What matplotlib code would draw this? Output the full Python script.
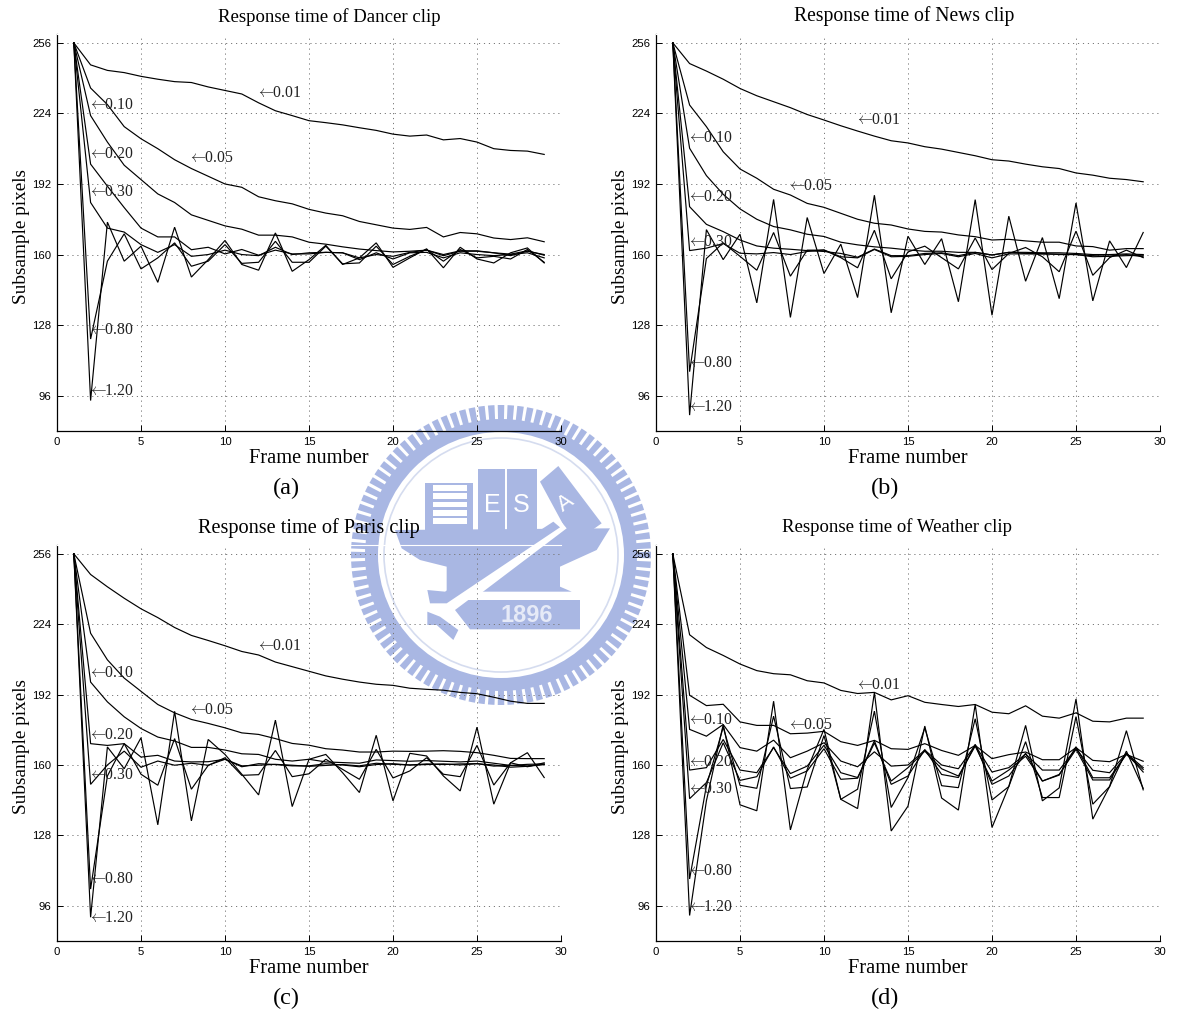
import numpy as np
from matplotlib import pyplot as plt
from matplotlib.patches import Circle, Polygon, Wedge

W, H = 1180, 1019

frames = list(range(1, 30))
rates = ['0.01', '0.05', '0.10', '0.20', '0.30', '0.80', '1.20']

dancer_001 = [256, 246, 243.5, 242.5, 240.8, 239.5, 238.4, 238, 236, 234.4, 232.8, 228.8, 225.2, 223, 220.7, 219.8, 218.8, 217.5, 216.3, 214.6, 213.7, 214.2, 212, 212.6, 211, 208, 207.2, 206.9, 205.4]
dancer_005 = [256, 235.5, 228, 218, 212.5, 208, 203, 199, 195.5, 192, 190.5, 186.2, 184.4, 183, 180.5, 178.8, 177.6, 175, 173.5, 172, 171.4, 172.3, 168, 170, 169.4, 167.5, 166.8, 167.6, 165.8]
dancer_010 = [256, 223, 211, 200.5, 194, 187.5, 183.6, 178, 175.5, 173, 171.5, 168.8, 168.8, 168, 165.6, 164.7, 163.5, 162.5, 161.8, 161.2, 161.5, 162, 160, 161.7, 161.7, 160.8, 160.2, 161.7, 159.7]
dancer_020 = [256, 201, 191, 181.3, 172, 168, 168, 162.2, 163.3, 160.3, 162.3, 159.7, 162, 160.3, 160.3, 161, 160.8, 158.5, 160, 159.2, 161, 162, 159.5, 161.5, 161.5, 160.8, 159.5, 161.5, 160]
dancer_030 = [256, 183.6, 172, 170.2, 164.5, 161, 164.5, 159.2, 160, 162, 160, 159.5, 163.3, 160, 160.8, 161, 160.8, 157.7, 160.8, 158, 160.8, 161, 158.5, 160.8, 160, 159.5, 160, 160.8, 158.5]
dancer_080 = [256, 121.7, 157, 169.4, 153.5, 158.5, 165.3, 154.7, 157, 164.5, 156, 156.5, 166, 156.5, 156.5, 163.8, 155.8, 156.2, 163.8, 155.5, 159.2, 162.3, 157, 162.3, 158.5, 159.2, 158, 162.3, 156.5]
dancer_120 = [256, 93.8, 174.7, 157, 163.8, 147.4, 172.4, 149.8, 157.7, 166.4, 155.5, 152.9, 169.8, 152.4, 157.7, 164.2, 155.5, 158.5, 165.3, 154.2, 158.5, 162.6, 154, 163.3, 158, 156.2, 160.8, 163, 156.2]

news_001 = [256, 246.6, 243.2, 239.5, 235.3, 232, 229.3, 226.6, 223.5, 221, 218.4, 216, 213.7, 211.6, 210.6, 208.9, 207.8, 206.3, 204.8, 203, 202.4, 201, 199.8, 199, 197, 196, 194.6, 194, 193]
news_005 = [256, 227.8, 218, 206.6, 198.8, 194.6, 189.6, 187, 183.2, 181.4, 178.7, 176, 174.2, 173.4, 171.6, 170.5, 170.2, 168.9, 168.1, 166.6, 166.9, 166.2, 165.6, 165.6, 163.9, 163.6, 162, 162.7, 162.7]
news_010 = [256, 208.2, 195.8, 187.3, 180.7, 176, 172.7, 171.2, 169.2, 168.2, 165.6, 164.4, 163.5, 162.9, 162.1, 161.5, 161.5, 161, 161, 159.8, 161, 161, 160.8, 160.8, 160.5, 160, 160, 160.3, 160]
news_020 = [256, 181.7, 173.7, 170.4, 166.6, 163.9, 162.9, 162.4, 161.8, 161.4, 160.5, 158.8, 162.5, 159.5, 159.5, 160.5, 160.8, 159.5, 161, 159.8, 161, 160.5, 160.5, 160, 160, 159.5, 159.3, 160, 159]
news_030 = [256, 161.8, 162.9, 165, 160.6, 160.3, 160.9, 160, 161.4, 162.1, 159, 158.5, 162.3, 159, 159.2, 160, 160.5, 159, 160.5, 158.5, 160.3, 160.3, 160.2, 160.2, 160, 159, 159.2, 159.5, 159.7]
news_080 = [256, 106.9, 158.2, 165.3, 159.2, 152.9, 170, 150.2, 162, 162, 158.6, 154, 171, 149, 161.2, 163.8, 158.6, 153.5, 167.5, 153.2, 160.5, 163.2, 159, 152.2, 170.6, 150.6, 158.6, 162, 158.6]
news_120 = [256, 87.2, 171.3, 157.7, 169.2, 138.1, 185, 131.5, 176.8, 151.4, 164.7, 140.5, 186.9, 133.6, 168.3, 155.5, 167.2, 138.6, 184.9, 132.5, 177.4, 147.9, 167.7, 140, 183.4, 139, 166.2, 154.1, 170]

paris_001 = [256, 246.6, 241, 235.8, 231, 227, 222.5, 218.9, 216.6, 214.2, 211.6, 210, 206.8, 204.7, 202.6, 200.5, 199, 197.7, 196.7, 196.2, 194.9, 194.4, 194, 193, 192.4, 190.8, 189, 188, 188]
paris_005 = [256, 219.9, 207.8, 199.5, 193.5, 187.5, 183.7, 180.7, 178.9, 176.9, 174.6, 173.9, 172, 169.8, 169, 167.4, 166.8, 165.9, 165.9, 166.3, 166.2, 166.3, 166.5, 166.2, 165.6, 164.4, 163, 162.9, 162.9]
paris_010 = [256, 197.7, 188.7, 181.9, 176.6, 172.7, 170.9, 168, 168, 166.8, 165.1, 164.8, 162.6, 161.8, 162.6, 161.4, 161.1, 160.8, 162.3, 162, 161.7, 162, 161.7, 161.4, 161.8, 160.8, 159.8, 160.3, 160.5]
paris_020 = [256, 169.7, 168.9, 169.7, 163.6, 164.4, 161.8, 161.4, 161.5, 162.6, 159.6, 159.9, 160.3, 159.9, 159.4, 159.8, 160.2, 159.6, 160.8, 160.3, 160, 160.5, 160.2, 160.5, 160.6, 159.5, 159.8, 159.6, 160.3]
paris_030 = [256, 151.2, 160, 166.3, 159, 161.8, 159.9, 160.8, 159.9, 162.6, 159.2, 160.6, 160.2, 159.6, 159.6, 160.6, 160, 159.2, 160.2, 160.6, 160, 160.2, 160.5, 160, 160.6, 160, 159, 159.4, 160.2]
paris_080 = [256, 103.6, 155, 169.7, 155.8, 150.8, 172, 149, 159.8, 163.3, 155.3, 155.6, 166.6, 154.7, 156, 162.6, 158, 153.5, 167.1, 154.1, 157.3, 163.3, 155.8, 154.7, 168.9, 150.9, 161, 159.2, 161]
paris_120 = [256, 90.8, 168.2, 158.3, 172.4, 132.8, 184.4, 134.6, 171.6, 164.8, 155.8, 146.4, 180.4, 141.1, 162.6, 164.8, 156.5, 147.5, 173.5, 143.7, 165.3, 164.1, 155, 148.2, 177.2, 142.2, 161, 165.6, 154.3]

weather_001 = [256, 219.2, 213.4, 209.8, 205.9, 202.9, 201.5, 201, 198.3, 197.3, 193.9, 192.5, 193, 189.6, 191.5, 188.5, 187.5, 186.6, 187.5, 184, 183.3, 186.9, 182.2, 181.3, 183.7, 179.9, 179.6, 181.3, 181.3]
weather_005 = [256, 191.7, 187, 187.6, 179.6, 178, 178, 174.2, 174.5, 175.3, 170.6, 168.9, 171.2, 167.4, 167.1, 169.7, 166.6, 164.4, 168.9, 162.9, 164.7, 165.9, 162.4, 162.4, 167.9, 162.1, 161.5, 164.8, 161.7]
weather_010 = [256, 176.2, 173.1, 178.4, 167.9, 166.3, 171.3, 163.3, 166.3, 170.1, 161.8, 159.2, 166, 159.5, 160, 166.8, 160, 158.3, 169, 156.8, 158.8, 165, 157.7, 157.7, 167.5, 157.6, 156.5, 165.3, 158.8]
weather_020 = [256, 157.7, 158.8, 171.6, 157.7, 156.5, 167.9, 156.1, 159.5, 169, 156.5, 154.3, 170, 152.7, 158.8, 166.3, 158.3, 155, 168.6, 152.7, 157.7, 164, 152.7, 155.4, 168.3, 154.2, 154.2, 164.8, 158]
weather_030 = [256, 144.7, 152, 170.1, 153, 154.7, 168.2, 154, 157.3, 167.4, 153.5, 154, 171, 151.2, 155, 167, 155.7, 154.3, 169.4, 151.2, 155, 165.3, 152.7, 155.7, 167.1, 153.2, 153.2, 165.3, 156.8]
weather_080 = [256, 108.2, 150.5, 177.2, 150.8, 149.4, 182.2, 149.3, 150, 173.4, 144.4, 149, 184.5, 140.7, 154.3, 176.9, 150.6, 149.7, 181, 144.1, 150.2, 170.6, 145.2, 145.2, 182, 142.2, 150.2, 166.3, 149.4]
weather_120 = [256, 91.6, 143.7, 178.4, 141.9, 139.2, 189, 130.5, 158, 176.2, 144.4, 140.2, 193, 130, 141.3, 177.7, 145, 139.5, 187.5, 131.6, 150.2, 178, 143.7, 149.6, 190, 135.4, 150.2, 175.6, 148.7]

label_x = [12, 8, 2, 2, 2, 2, 2]
dancer_label_y = [233.3, 203.9, 227.9, 205.7, 188.5, 126, 98]
news_label_y = [221, 191, 213, 186, 165.8, 111, 91]
paris_label_y = [214, 185, 202, 173.5, 155.5, 108, 90.5]
weather_label_y = [196.5, 178, 180.5, 161.5, 149, 112, 95.5]

SERIF = ['Liberation Serif', 'DejaVu Serif']
SANS = 'Liberation Sans'
SEAL = '#a9b7e3'


def px_axes(fig, left, top, right, bottom):
    return fig.add_axes([left / W, 1 - bottom / H, (right - left) / W, (bottom - top) / H])


def draw_seal(fig):
    ax = fig.add_axes([0, 0, 1, 1], zorder=0)
    ax.set_xlim(0, W)
    ax.set_ylim(H, 0)
    ax.axis('off')

    # the seal was read in a 3x crop starting at (340, 390)
    def pt(points):
        return [(340 + x / 3, 390 + y / 3) for x, y in points]

    cx, cy = 501, 555
    for a in np.arange(0, 360, 3.75):
        ax.add_patch(Wedge((cx, cy), 150, a - 1.25, a + 1.25, width=18, fc=SEAL, ec='none'))
    ax.add_patch(Circle((cx, cy), 136, fc=SEAL, ec='none'))
    ax.add_patch(Circle((cx, cy), 123, fc='white', ec='none'))
    ax.add_patch(Circle((cx, cy), 117, fc='none', ec='#d5dcef', lw=1.2))

    ax.add_patch(Polygon(pt([(165, 420), (810, 415), (770, 480), (660, 530), (660, 590), (695, 605),
                             (320, 605), (320, 530), (240, 510), (185, 475)]), fc=SEAL, ec='none'))
    ax.add_patch(Polygon(pt([(255, 280), (400, 280), (400, 420), (255, 420)]), fc=SEAL, ec='none'))
    for y in (285, 310, 335, 360, 385):
        ax.add_patch(Polygon(pt([(278, y), (382, y), (382, y + 17), (278, y + 17)]), fc='white', ec='none'))
    ax.add_patch(Polygon(pt([(415, 238), (495, 238), (495, 420), (415, 420)]), fc=SEAL, ec='none'))
    ax.add_patch(Polygon(pt([(500, 238), (590, 238), (590, 420), (500, 420)]), fc=SEAL, ec='none'))
    ax.add_patch(Polygon(pt([(600, 275), (655, 228), (785, 400), (700, 460)]), fc=SEAL, ec='none'))

    ax.add_patch(Polygon(pt([(655, 385), (680, 415), (350, 665), (300, 640)]), fc='white', ec='none'))
    ax.add_patch(Polygon(pt([(640, 395), (660, 412), (320, 640), (270, 640), (262, 600), (315, 605)]), fc=SEAL, ec='none'))
    ax.add_patch(Polygon(pt([(262, 665), (300, 680), (355, 720), (340, 750), (290, 705), (262, 705)]), fc=SEAL, ec='none'))
    ax.add_patch(Polygon(pt([(385, 630), (720, 630), (720, 718), (390, 718), (345, 660)]), fc=SEAL, ec='none'))

    ax.text(*pt([(457, 345)])[0], 'E', family=SANS, fontsize=18, color='white', ha='center', va='center')
    ax.text(*pt([(545, 345)])[0], 'S', family=SANS, fontsize=18, color='white', ha='center', va='center')
    ax.text(*pt([(678, 340)])[0], 'A', family=SANS, fontsize=16, color='white', ha='center', va='center', rotation=35)
    ax.text(*pt([(560, 675)])[0], '1896', family=SANS, fontsize=17, weight='bold', color='#e6eaf7', ha='center', va='center')


def draw_panel(ax, series, label_y, title, title_x, tag):
    ax.patch.set_alpha(0)
    for values in series:
        ax.plot(frames, values, color='black', lw=0.85, solid_joinstyle='miter', clip_on=False)

    ax.set_xlim(0, 30)
    ax.set_ylim(80, 260)
    ax.set_xticks(range(0, 31, 5))
    ax.set_yticks([96, 128, 160, 192, 224, 256])
    ax.grid(True, color='#777777', lw=0.7, ls=(0, (1.2, 3.9)))
    ax.set_axisbelow(True)
    ax.tick_params(direction='in', length=4, width=0.7, labelsize=8.2, pad=4)
    ax.spines['top'].set_color('white')
    ax.spines['right'].set_visible(False)
    ax.spines['left'].set_linewidth(0.9)
    ax.spines['bottom'].set_linewidth(0.9)
    for lab in ax.get_xticklabels() + ax.get_yticklabels():
        lab.set_family(SANS)

    ax.set_title(title, family=SERIF, fontsize=title_x[1], x=title_x[0], y=1.0, pad=9)
    ax.set_xlabel('Frame number', family=SERIF, fontsize=14.7, labelpad=2)
    ax.set_ylabel('Subsample pixels', family=SERIF, fontsize=13.9, labelpad=2, y=0.49)

    for x, y, rate in zip(label_x, label_y, rates):
        # the arrow tip sits on the frame, its tail runs into the digits
        ax.annotate(r'$\leftarrow\!\!$' + rate, (x, y), xytext=(-3, 0), textcoords='offset pixels',
                    family=SERIF, math_fontfamily='cm', fontsize=11.3, color='#222222', ha='left', va='center')
    ax.annotate(tag, (0.455, 0), xytext=(0, -57), xycoords='axes fraction', textcoords='offset pixels',
                family=SERIF, fontsize=17.5, ha='center', va='center')


def main():
    fig = plt.figure(figsize=(W / 100, H / 100), dpi=100)
    draw_seal(fig)

    ax_a = px_axes(fig, 57, 34, 561, 431)
    ax_b = px_axes(fig, 656, 34, 1160, 431)
    ax_c = px_axes(fig, 57, 545, 561, 941)
    ax_d = px_axes(fig, 656, 545, 1160, 941)
    for ax in (ax_a, ax_b, ax_c, ax_d):
        ax.set_zorder(1)

    draw_panel(ax_a, [dancer_001, dancer_005, dancer_010, dancer_020, dancer_030, dancer_080, dancer_120],
               dancer_label_y, 'Response time of Dancer clip', (0.54, 13.5), '(a)')
    draw_panel(ax_b, [news_001, news_005, news_010, news_020, news_030, news_080, news_120],
               news_label_y, 'Response time of News clip', (0.492, 14.1), '(b)')
    draw_panel(ax_c, [paris_001, paris_005, paris_010, paris_020, paris_030, paris_080, paris_120],
               paris_label_y, 'Response time of Paris clip', (0.5, 14.6), '(c)')
    draw_panel(ax_d, [weather_001, weather_005, weather_010, weather_020, weather_030, weather_080, weather_120],
               weather_label_y, 'Response time of Weather clip', (0.478, 13.5), '(d)')

    fig.savefig('out.png', dpi=100)


if __name__ == '__main__':
    main()
